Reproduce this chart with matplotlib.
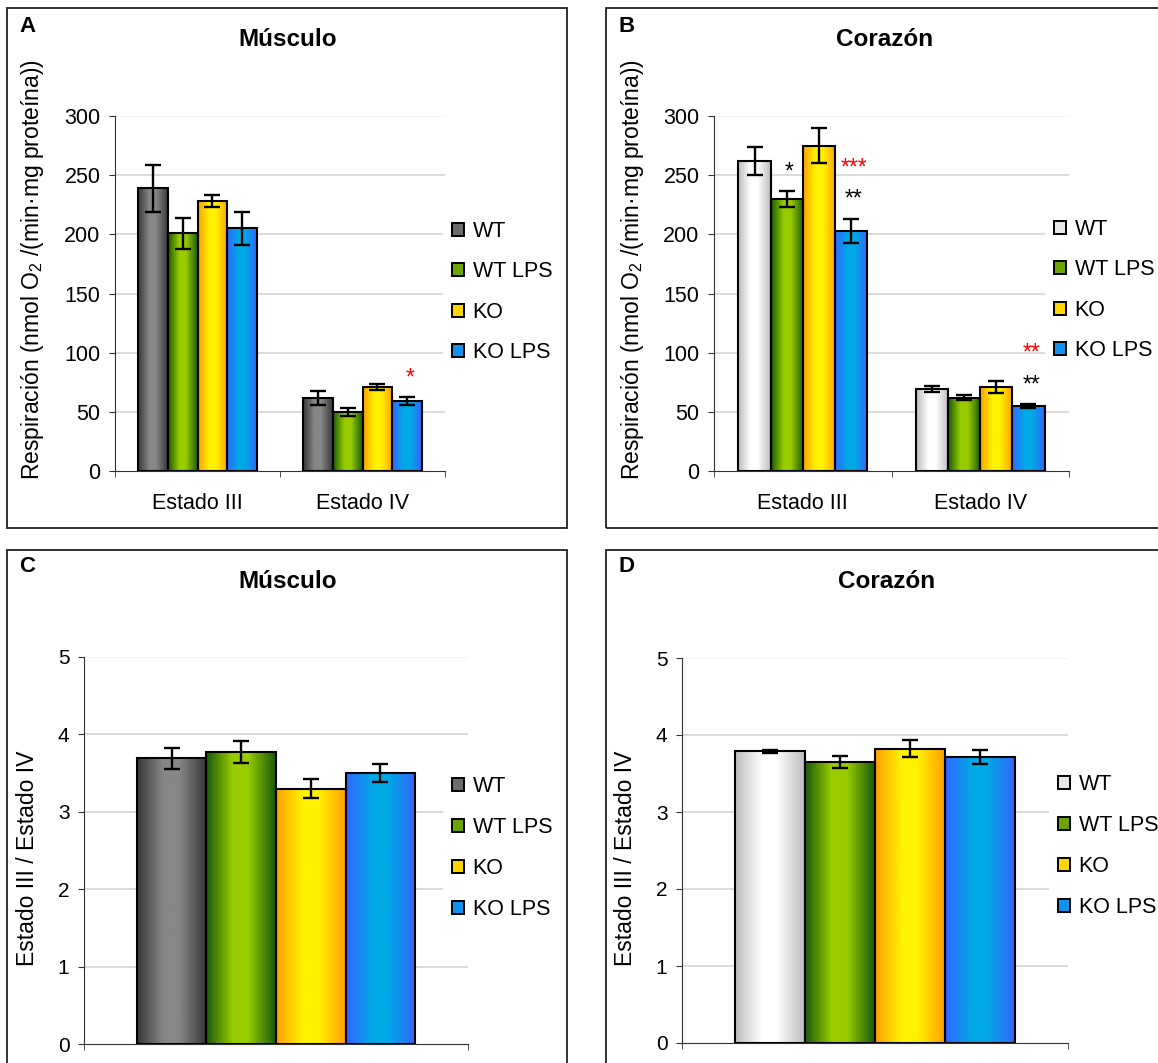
import numpy as np
import matplotlib
matplotlib.use("Agg")
import matplotlib.pyplot as plt
from matplotlib.patches import Rectangle, Patch
from matplotlib.colors import to_rgb

plt.rcParams['font.family'] = ['Liberation Sans', 'DejaVu Sans']
plt.rcParams['mathtext.fontset'] = 'custom'
plt.rcParams['mathtext.rm'] = 'Liberation Sans'

# data
states = ['Estado III', 'Estado IV']
groups = ['WT', 'WT LPS', 'KO', 'KO LPS']

musc_resp = [[239, 201, 228, 205], [62, 50, 71, 59]]
musc_resp_err = [[20, 13, 5, 14], [6, 3.5, 2.5, 3.5]]
heart_resp = [[262, 230, 275, 203], [69, 62, 71, 55]]
heart_resp_err = [[12, 6.5, 14.5, 10], [2.5, 2, 5, 1.5]]

musc_ratio = [3.69, 3.77, 3.30, 3.50]
musc_ratio_err = [0.14, 0.14, 0.12, 0.12]
heart_ratio = [3.79, 3.65, 3.82, 3.71]
heart_ratio_err = [0.02, 0.08, 0.11, 0.09]

# (state, group, marks, colour)
musc_sig = [(1, 3, '*', 'red')]
heart_sig = [(0, 1, '*', 'black'), (0, 3, '**', 'black'), (0, 3, '***', 'red'),
             (1, 3, '**', 'black'), (1, 3, '**', 'red')]

# (edge colour, centre colour) of each horizontal gradient
GRAY = ('#383838', '#878787')
WHITE = ('#bcbcbc', '#ffffff')
GREEN = ('#1a5a0a', '#99cc00')
YELLOW = ('#ffa000', '#fff200')
BLUE = ('#3366ff', '#00aae6')

W, H = 1158, 1063
fig = plt.figure(figsize=(W / 100, H / 100), dpi=100)


def px_axes(l, t, r, b):
    return fig.add_axes([l / W, 1 - b / H, (r - l) / W, (b - t) / H])


def grad_bar(ax, x0, width, h, cols):
    edge, mid = np.array(to_rgb(cols[0])), np.array(to_rgb(cols[1]))
    t = np.linspace(0, 1, 80)
    w = np.interp(t, [0, 0.38, 0.6, 1], [0, 1, 1, 0])[:, None]
    img = (edge * (1 - w) + mid * w)[None, :, :]
    ax.imshow(img, extent=(x0, x0 + width, 0, h), aspect='auto', zorder=2,
              interpolation='bilinear')
    ax.add_patch(Rectangle((x0, 0), width, h, fc='none', ec='black', lw=1.5, zorder=3))


def panel(ax, values, errs, palette, ymax, ystep, xlabels, fs, sig=None):
    values = np.atleast_2d(values)
    errs = np.atleast_2d(errs)
    bw = 0.181
    ncat = values.shape[0]
    for c in range(ncat):
        for i in range(4):
            x = c + (i - 1.5) * bw
            grad_bar(ax, x - bw / 2, bw, values[c, i], palette[i])
            ax.errorbar(x, values[c, i], yerr=errs[c, i], fmt='none', ecolor='black',
                        elinewidth=1.7, capsize=5.5, capthick=1.7, zorder=4)
    if sig:
        levels = {}
        for c, i, txt, col in sig:
            lv = levels.get((c, i), 0)
            levels[(c, i)] = lv + 1
            x = c + (i - 1.5) * bw
            ax.annotate(txt, (x, values[c, i] + errs[c, i]), xytext=(2, 14 + lv * 22.7),
                        textcoords='offset points', ha='center', va='center',
                        color=col, fontsize=16.5, zorder=5)
    ax.set_xlim(-0.5, ncat - 0.5)
    ax.set_ylim(0, ymax)
    ax.set_yticks(np.arange(0, ymax + ystep / 2, ystep))
    ax.set_xticks(range(ncat))
    ax.set_xticklabels(xlabels, fontsize=fs)
    ax.set_xticks(np.arange(-0.5, ncat, 1.0), minor=True)
    ax.tick_params(axis='x', which='major', length=0, pad=16)
    ax.tick_params(axis='x', which='minor', length=4.5, direction='out', color='#333333')
    ax.tick_params(axis='y', length=4.5, color='#333333', labelsize=fs, pad=6)
    for s in ['top', 'right']:
        ax.spines[s].set_visible(False)
    for s in ['left', 'bottom']:
        ax.spines[s].set_color('#333333')
    ax.yaxis.grid(True, color='#d4d4d4', lw=1.2)
    gl = ax.yaxis.get_gridlines()
    gl[0].set_visible(False)
    gl[-1].set_color('#f0f0f0')
    ax.set_axisbelow(True)


def add_legend(palette, x, y, fs, spacing):
    handles = []
    for c in palette:
        e, m = np.array(to_rgb(c[0])), np.array(to_rgb(c[1]))
        handles.append(Patch(facecolor=0.35 * e + 0.65 * m, edgecolor='black', lw=1.4))
    fig.legend(handles, groups, loc='center left', bbox_to_anchor=(x / W, 1 - y / H),
               fontsize=fs, frameon=True, facecolor='white', edgecolor='none',
               framealpha=1, handlelength=0.56, handleheight=0.56, handletextpad=0.42,
               labelspacing=spacing, borderpad=0.4, borderaxespad=0)


def frame(l, t, r, b):
    fig.add_artist(Rectangle((l / W, 1 - b / H), (r - l) / W, (b - t) / H,
                             transform=fig.transFigure, fill=False,
                             ec='#222222', lw=1.3, zorder=20))


musc_pal = [GRAY, GREEN, YELLOW, BLUE]
heart_pal = [WHITE, GREEN, YELLOW, BLUE]
resp_label = r'Respiración (nmol O$_\mathrm{2}$ /(min·mg proteína))'
ratio_label = 'Estado III / Estado IV'

frame(7, 8, 567, 528)
frame(606, 8, 1200, 528)
frame(7, 550, 567, 1100)
frame(606, 550, 1200, 1100)

# A - muscle respiration
axA = px_axes(115, 116, 445, 471)
panel(axA, musc_resp, musc_resp_err, musc_pal, 300, 50, states, 15.5, musc_sig)
fig.text(33 / W, 1 - 270 / H, resp_label, rotation=90, ha='center', va='center', fontsize=16.5)
fig.text(288 / W, 1 - 40 / H, 'Músculo', ha='center', va='center', fontsize=17.5, fontweight='bold')
fig.text(19 / W, 1 - 26 / H, 'A', ha='left', va='center', fontsize=16, fontweight='bold')
add_legend(musc_pal, 443, 292, 15.5, 0.9)

# B - heart respiration
axB = px_axes(714, 116, 1069, 471)
panel(axB, heart_resp, heart_resp_err, heart_pal, 300, 50, states, 15.5, heart_sig)
fig.text(632 / W, 1 - 270 / H, resp_label, rotation=90, ha='center', va='center', fontsize=16.5)
fig.text(885 / W, 1 - 40 / H, 'Corazón', ha='center', va='center', fontsize=17.5, fontweight='bold')
fig.text(618 / W, 1 - 26 / H, 'B', ha='left', va='center', fontsize=16, fontweight='bold')
add_legend(heart_pal, 1045, 290, 15.5, 0.9)

# C - muscle ratio
axC = px_axes(84, 657, 468, 1044)
panel(axC, musc_ratio, musc_ratio_err, musc_pal, 5, 1, [''], 15)
fig.text(28 / W, 1 - 858 / H, ratio_label, rotation=90, ha='center', va='center', fontsize=16.5)
fig.text(288 / W, 1 - 581 / H, 'Músculo', ha='center', va='center', fontsize=17.5, fontweight='bold')
fig.text(19 / W, 1 - 566 / H, 'C', ha='left', va='center', fontsize=16, fontweight='bold')
add_legend(musc_pal, 443, 848, 15.5, 0.92)

# D - heart ratio
axD = px_axes(682, 658, 1068, 1043)
panel(axD, heart_ratio, heart_ratio_err, heart_pal, 5, 1, [''], 15)
fig.text(626 / W, 1 - 858 / H, ratio_label, rotation=90, ha='center', va='center', fontsize=16.5)
fig.text(887 / W, 1 - 581 / H, 'Corazón', ha='center', va='center', fontsize=17.5, fontweight='bold')
fig.text(618 / W, 1 - 566 / H, 'D', ha='left', va='center', fontsize=16, fontweight='bold')
add_legend(heart_pal, 1049, 846, 15.5, 0.92)

fig.savefig('out.png', dpi=100)
